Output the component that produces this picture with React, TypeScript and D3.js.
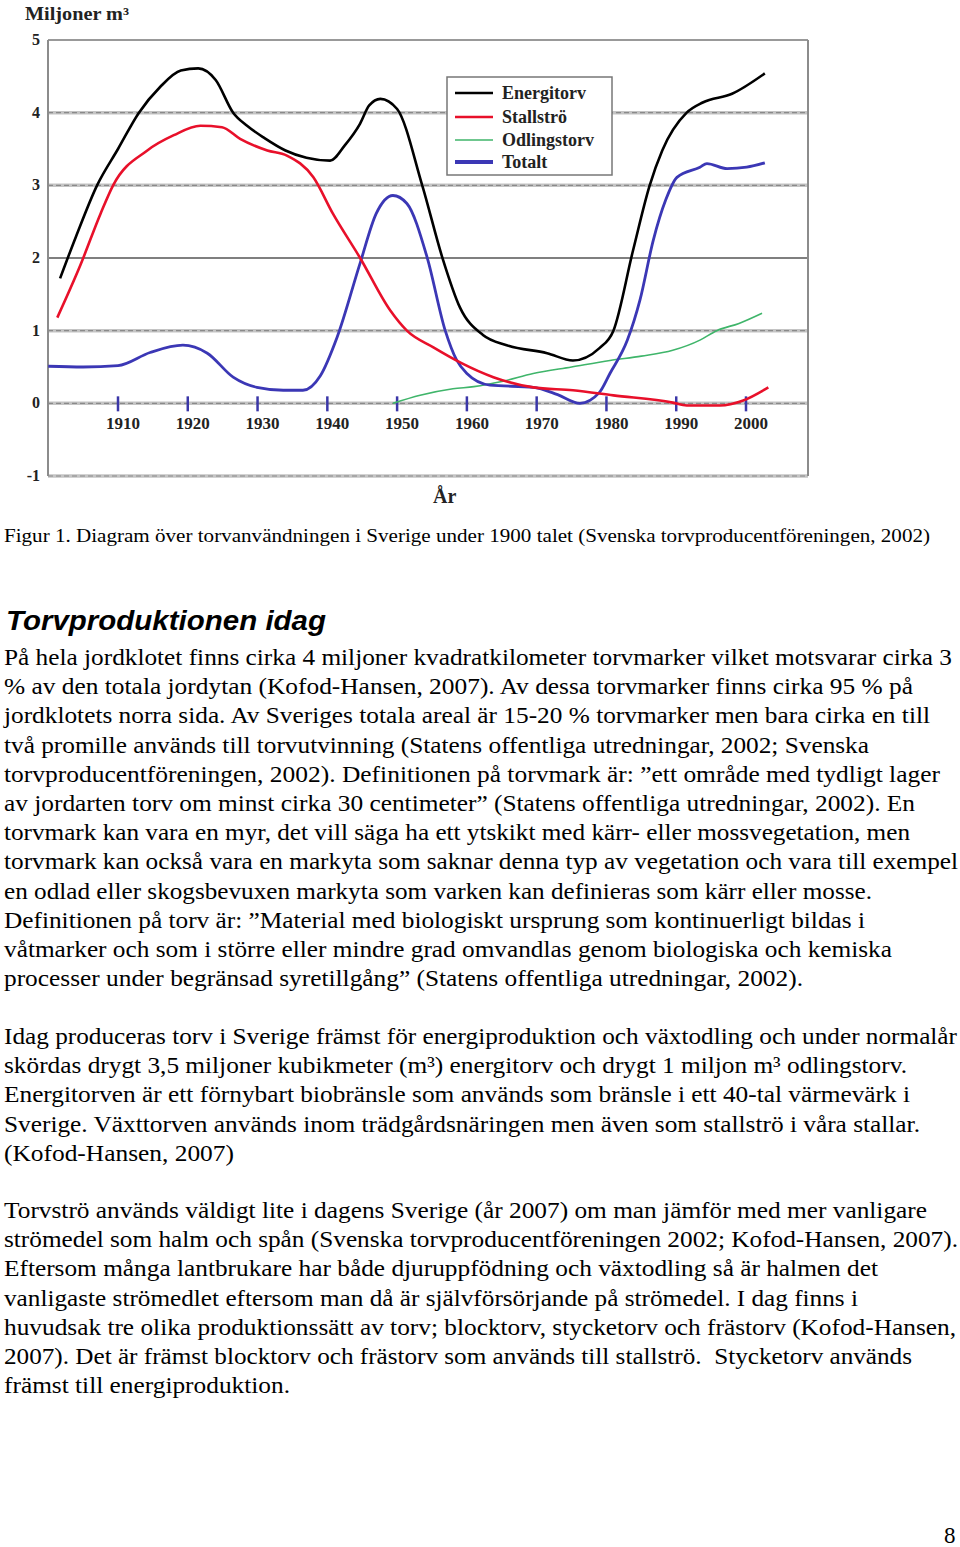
import React from "react";
import * as d3 from "d3";

// ---------- data ----------
const decadeTicks = [1910, 1920, 1930, 1940, 1950, 1960, 1970, 1980, 1990, 2000];
const yTickValues = [-1, 0, 1, 2, 3, 4, 5];

const energitorvYears = [1901.7, 1904, 1907, 1910, 1913, 1916, 1919, 1921.5, 1924, 1926.5, 1928.5, 1931, 1934, 1937, 1940.4, 1942.5, 1944.7, 1946, 1947.6, 1950, 1953.6, 1956.5, 1959, 1962.3, 1965.7, 1971.5, 1975.2, 1979, 1981, 1983.8, 1986.2, 1988, 1991.5, 1993.8, 1998, 2002.7];
const energitorvValues = [1.72, 2.3, 3.0, 3.5, 4.0, 4.35, 4.58, 4.61, 4.45, 4.0, 3.82, 3.65, 3.48, 3.38, 3.34, 3.55, 3.85, 4.1, 4.19, 4.05, 3.0, 2.0, 1.32, 0.94, 0.8, 0.69, 0.59, 0.76, 1.0, 2.1, 3.0, 3.48, 4.0, 4.14, 4.26, 4.54];

const stallstroYears = [1901.3, 1904.6, 1907.5, 1909.3, 1914.2, 1918, 1921.8, 1924.9, 1927.5, 1931.4, 1934.2, 1938, 1940.8, 1944.7, 1949, 1951.4, 1955.2, 1959.3, 1963.8, 1969.5, 1975.2, 1981, 1989.5, 1991.5, 1996.3, 1999.6, 2003.2];
const stallstroValues = [1.18, 1.9, 2.61, 3.0, 3.48, 3.69, 3.82, 3.8, 3.64, 3.48, 3.41, 3.11, 2.61, 2.0, 1.28, 1.0, 0.77, 0.55, 0.36, 0.22, 0.18, 0.11, 0.01, -0.03, -0.03, 0.04, 0.22];

const odlingstorvYears = [1949.4, 1953.3, 1958, 1961, 1965, 1969.5, 1975, 1980.5, 1985, 1989.5, 1993.4, 1995.8, 1999, 2002.3];
const odlingstorvValues = [0.0, 0.11, 0.2, 0.23, 0.3, 0.41, 0.5, 0.59, 0.65, 0.73, 0.87, 1.0, 1.1, 1.24];

const totaltYears = [1900, 1905, 1910, 1914.6, 1919.3, 1922.8, 1926.5, 1929.9, 1933.7, 1936.5, 1939, 1941.4, 1944.7, 1947, 1949.4, 1951.4, 1954.3, 1956.9, 1958.5, 1960, 1963.3, 1969.5, 1973, 1976.2, 1979, 1980.5, 1983, 1984.8, 1986.7, 1988.5, 1990.1, 1993.4, 1994.4, 1997.3, 2000.1, 2002.7];
const totaltValues = [0.51, 0.5, 0.52, 0.7, 0.8, 0.69, 0.36, 0.22, 0.18, 0.18, 0.38, 0.91, 1.93, 2.61, 2.86, 2.75, 2.01, 1.0, 0.6, 0.41, 0.25, 0.22, 0.12, 0.0, 0.15, 0.41, 0.87, 1.42, 2.24, 2.8, 3.11, 3.25, 3.3, 3.23, 3.25, 3.31];

const legendLabels = ["Energitorv", "Stallströ", "Odlingstorv", "Totalt"];

const captionText = "Figur 1. Diagram över torvanvändningen i Sverige under 1900 talet (Svenska torvproducentföreningen, 2002)";
const headingText = "Torvproduktionen idag";

const paragraph1Lines = [
  "På hela jordklotet finns cirka 4 miljoner kvadratkilometer torvmarker vilket motsvarar cirka 3",
  "% av den totala jordytan (Kofod-Hansen, 2007). Av dessa torvmarker finns cirka 95 % på",
  "jordklotets norra sida. Av Sveriges totala areal är 15-20 % torvmarker men bara cirka en till",
  "två promille används till torvutvinning (Statens offentliga utredningar, 2002; Svenska",
  "torvproducentföreningen, 2002). Definitionen på torvmark är: ”ett område med tydligt lager",
  "av jordarten torv om minst cirka 30 centimeter” (Statens offentliga utredningar, 2002). En",
  "torvmark kan vara en myr, det vill säga ha ett ytskikt med kärr- eller mossvegetation, men",
  "torvmark kan också vara en markyta som saknar denna typ av vegetation och vara till exempel",
  "en odlad eller skogsbevuxen markyta som varken kan definieras som kärr eller mosse.",
  "Definitionen på torv är: ”Material med biologiskt ursprung som kontinuerligt bildas i",
  "våtmarker och som i större eller mindre grad omvandlas genom biologiska och kemiska",
  "processer under begränsad syretillgång” (Statens offentliga utredningar, 2002).",
];
const paragraph2Lines = [
  "Idag produceras torv i Sverige främst för energiproduktion och växtodling och under normalår",
  "skördas drygt 3,5 miljoner kubikmeter (m³) energitorv och drygt 1 miljon m³ odlingstorv.",
  "Energitorven är ett förnybart biobränsle som används som bränsle i ett 40-tal värmevärk i",
  "Sverige. Växttorven används inom trädgårdsnäringen men även som stallströ i våra stallar.",
  "(Kofod-Hansen, 2007)",
];
const paragraph3Lines = [
  "Torvströ används väldigt lite i dagens Sverige (år 2007) om man jämför med mer vanligare",
  "strömedel som halm och spån (Svenska torvproducentföreningen 2002; Kofod-Hansen, 2007).",
  "Eftersom många lantbrukare har både djuruppfödning och växtodling så är halmen det",
  "vanligaste strömedlet eftersom man då är självförsörjande på strömedel. I dag finns i",
  "huvudsak tre olika produktionssätt av torv; blocktorv, stycketorv och frästorv (Kofod-Hansen,",
  "2007). Det är främst blocktorv och frästorv som används till stallströ.  Stycketorv används",
  "främst till energiproduktion.",
];

// ---------- layout (line right edges, px) ----------
const p1Ends = [952, 913, 930, 869, 940, 915, 910, 958, 872, 865, 892, 803];
const p2Ends = [957, 907, 910, 920, 234];
const p3Ends = [927, 958, 878, 858, 956, 912, 290];

const COLORS = {
  energitorv: "#000000",
  stallstro: "#e8102a",
  odlingstorv: "#3fb56a",
  totalt: "#3b37b5",
};

export default function App() {
  const plotLeft = 48;
  const plotRight = 808;
  const x = d3.scaleLinear().domain([1910, 2000]).range([118, 746]);
  const y = d3.scaleLinear().domain([-1, 5]).range([476, 40]);

  const makePath = (years: number[], values: number[]) =>
    d3
      .line<number>()
      .x((_, i) => x(years[i]))
      .y((d) => y(d))
      .curve(d3.curveMonotoneX)(values) || "";

  const serif = "'Liberation Serif', 'Times New Roman', serif";
  const textLeft = 4;

  const renderLines = (lines: string[], ends: number[], firstBaseline: number, step: number) =>
    lines.map((t, i) => (
      <text
        key={t}
        x={textLeft}
        y={firstBaseline + i * step}
        fontFamily={serif}
        fontSize={23}
        fill="#000"
        textLength={ends[i] - textLeft}
        lengthAdjust="spacingAndGlyphs"
        style={{ whiteSpace: "pre" }}
      >
        {t}
      </text>
    ));

  const gridGray = [4, 3, 1, 0, -1];
  const legendX = 447;
  const legendY = 77;
  const legendRowY = [93, 117, 140, 162];
  const legendColors = [COLORS.energitorv, COLORS.stallstro, COLORS.odlingstorv, COLORS.totalt];
  const legendWidths = [2.5, 2.5, 1.5, 4];

  return (
    <svg
      width={960}
      height={1547}
      viewBox="0 0 960 1547"
      style={{ position: "absolute", left: 0, top: 0, background: "#fff" }}
    >
      <rect x={0} y={0} width={960} height={1547} fill="#fff" />

      {/* chart */}
      <g>
        {gridGray.map((v) => (
          <g key={"g" + v}>
            <line x1={plotLeft} x2={plotRight} y1={y(v)} y2={y(v)} stroke="#c4c4c4" strokeWidth={3.5} />
            <line x1={plotLeft} x2={plotRight} y1={y(v)} y2={y(v)} stroke="#8a8a8a" strokeWidth={1.2} strokeDasharray="5,3" />
          </g>
        ))}
        <line x1={plotLeft} x2={plotRight} y1={y(2)} y2={y(2)} stroke="#555" strokeWidth={1.6} />
        <line x1={plotLeft} x2={plotRight} y1={y(5)} y2={y(5)} stroke="#999" strokeWidth={2} />
        <line x1={plotLeft} x2={plotLeft} y1={y(5)} y2={y(-1)} stroke="#8c8c8c" strokeWidth={2} />
        <line x1={plotRight} x2={plotRight} y1={y(5)} y2={y(-1)} stroke="#8c8c8c" strokeWidth={2} />

        {yTickValues.map((v) => (
          <text
            key={"yl" + v}
            x={40}
            y={y(v) + 5}
            textAnchor="end"
            fontFamily={serif}
            fontWeight="bold"
            fontSize={16}
            fill="#222"
          >
            {v}
          </text>
        ))}
        <text
          x={25}
          y={20}
          fontFamily={serif}
          fontWeight="bold"
          fontSize={18}
          fill="#222"
          textLength={104}
          lengthAdjust="spacingAndGlyphs"
        >
          Miljoner m³
        </text>
        <text x={433} y={503} fontFamily={serif} fontWeight="bold" fontSize={20} fill="#222">
          År
        </text>

        {decadeTicks.map((d) => (
          <g key={"xt" + d}>
            <line x1={x(d)} x2={x(d)} y1={y(0) - 7} y2={y(0) + 8} stroke="#3b37a8" strokeWidth={2.5} />
            <text
              x={x(d) + 5}
              y={429}
              textAnchor="middle"
              fontFamily={serif}
              fontWeight="bold"
              fontSize={17}
              fill="#222"
            >
              {d}
            </text>
          </g>
        ))}

        <path d={makePath(odlingstorvYears, odlingstorvValues)} fill="none" stroke={COLORS.odlingstorv} strokeWidth={1.6} />
        <path d={makePath(totaltYears, totaltValues)} fill="none" stroke={COLORS.totalt} strokeWidth={2.8} />
        <path d={makePath(stallstroYears, stallstroValues)} fill="none" stroke={COLORS.stallstro} strokeWidth={2.6} />
        <path d={makePath(energitorvYears, energitorvValues)} fill="none" stroke={COLORS.energitorv} strokeWidth={2.6} />

        <rect x={legendX} y={legendY} width={165} height={98} fill="#fff" stroke="#777" strokeWidth={1.5} />
        {legendLabels.map((lab, i) => (
          <g key={lab}>
            <line x1={455} x2={493} y1={legendRowY[i]} y2={legendRowY[i]} stroke={legendColors[i]} strokeWidth={legendWidths[i]} />
            <text x={502} y={legendRowY[i] + 6} fontFamily={serif} fontWeight="bold" fontSize={18} fill="#222">
              {lab}
            </text>
          </g>
        ))}
      </g>

      <text
        x={textLeft}
        y={542}
        fontFamily={serif}
        fontSize={19}
        fill="#000"
        textLength={926}
        lengthAdjust="spacingAndGlyphs"
      >
        {captionText}
      </text>

      <text
        x={6}
        y={630}
        fontFamily="'Liberation Sans', Arial, sans-serif"
        fontWeight="bold"
        fontStyle="italic"
        fontSize={28}
        fill="#000"
        textLength={320}
        lengthAdjust="spacingAndGlyphs"
      >
        {headingText}
      </text>

      {renderLines(paragraph1Lines, p1Ends, 665, 29.2)}
      {renderLines(paragraph2Lines, p2Ends, 1044, 29.2)}
      {renderLines(paragraph3Lines, p3Ends, 1218, 29.2)}

      <text x={944} y={1543} fontFamily={serif} fontSize={23} fill="#000">
        8
      </text>
    </svg>
  );
}
